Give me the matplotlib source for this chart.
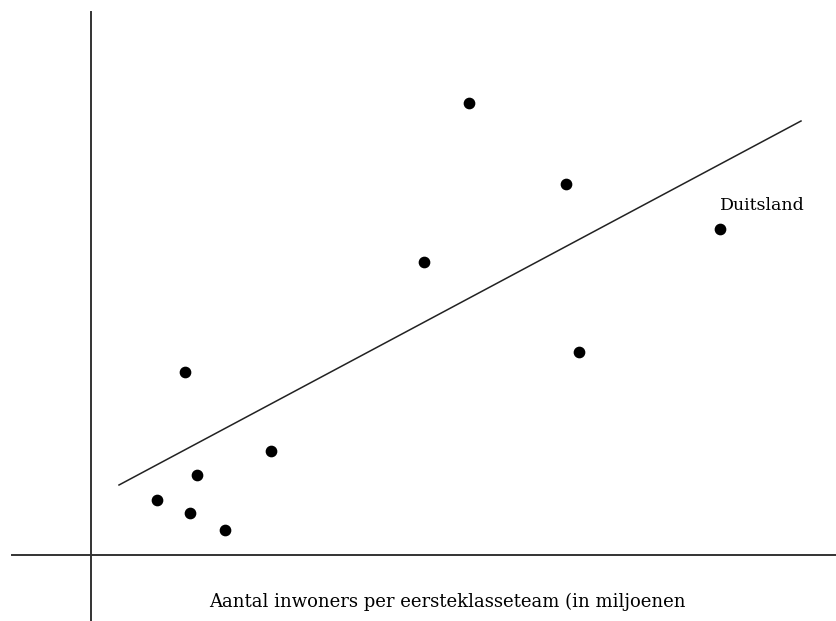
import matplotlib.pyplot as plt
import numpy as np

inwoners = [0.66, 0.99, 1.34, 1.06, 0.94, 1.80, 3.33, 3.78, 4.75, 4.88, 6.29]
waarde = [0.55, 0.42, 0.25, 0.80, 1.83, 1.04, 2.93, 4.52, 3.71, 2.03, 3.26]
label_punt = 'Duitsland'

lijn_x = [0.28, 7.10]
lijn_y = [0.70, 4.34]

xlabel = 'Aantal inwoners per eersteklasseteam (in miljoenen'

plt.rcParams['font.family'] = ['DejaVu Serif']

fig = plt.figure(figsize=(8.37, 6.21), dpi=100)
ax = fig.add_axes([0, 0, 1, 1])
ax.set_xlim(-0.91, 7.46)
ax.set_ylim(-0.66, 5.55)
ax.axis('off')

# assen die elkaar kruisen
ax.plot([-0.79, 7.46], [0, 0], color='#333333', lw=1.4)
ax.plot([0, 0], [-0.66, 5.43], color='#333333', lw=1.4)

ax.plot(lijn_x, lijn_y, color='#222222', lw=1.1)
ax.scatter(inwoners, waarde, s=55, color='black', zorder=3)

ax.annotate(label_punt, (inwoners[-1], waarde[-1]), xytext=(0, 14),
            textcoords='offset points', fontsize=12.5, ha='left')
ax.text(3.56, -0.47, xlabel, fontsize=13, ha='center', va='center')

fig.savefig('out.png', dpi=100)
